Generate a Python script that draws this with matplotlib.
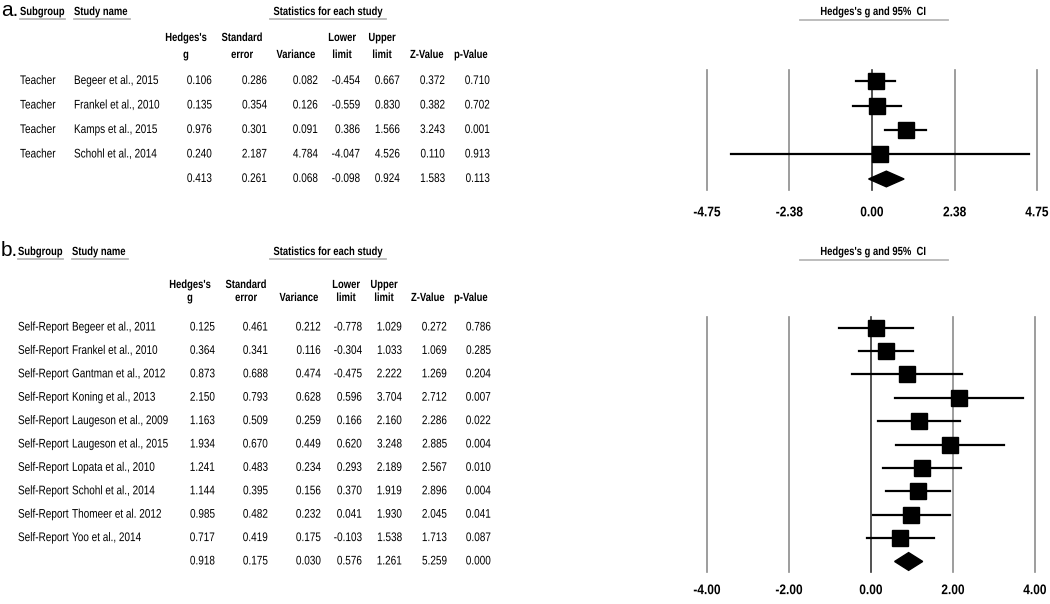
import matplotlib
matplotlib.use('Agg')
import matplotlib.pyplot as plt
from matplotlib.patches import Polygon
from matplotlib.lines import Line2D
from matplotlib.patheffects import AbstractPathEffect
from matplotlib.transforms import Affine2D, blended_transform_factory

# Panel a: teacher-reported outcomes
teacher_group = 'Teacher'
teacher_studies = ['Begeer et al., 2015', 'Frankel et al., 2010',
                   'Kamps et al., 2015', 'Schohl et al., 2014']
teacher_g = [0.106, 0.135, 0.976, 0.240]
teacher_se = [0.286, 0.354, 0.301, 2.187]
teacher_var = [0.082, 0.126, 0.091, 4.784]
teacher_lower = [-0.454, -0.559, 0.386, -4.047]
teacher_upper = [0.667, 0.830, 1.566, 4.526]
teacher_z = [0.372, 0.382, 3.243, 0.110]
teacher_p = [0.710, 0.702, 0.001, 0.913]
teacher_summary = [0.413, 0.261, 0.068, -0.098, 0.924, 1.583, 0.113]
teacher_ticks = [-4.75, -2.38, 0.0, 2.38, 4.75]
teacher_tick_labels = ['-4.75', '-2.38', '0.00', '2.38', '4.75']

# Panel b: self-reported outcomes
self_group = 'Self-Report'
self_studies = ['Begeer et al., 2011', 'Frankel et al., 2010', 'Gantman et al., 2012',
                'Koning et al., 2013', 'Laugeson et al., 2009', 'Laugeson et al., 2015',
                'Lopata et al., 2010', 'Schohl et al., 2014', 'Thomeer et al. 2012',
                'Yoo et al., 2014']
self_g = [0.125, 0.364, 0.873, 2.150, 1.163, 1.934, 1.241, 1.144, 0.985, 0.717]
self_se = [0.461, 0.341, 0.688, 0.793, 0.509, 0.670, 0.483, 0.395, 0.482, 0.419]
self_var = [0.212, 0.116, 0.474, 0.628, 0.259, 0.449, 0.234, 0.156, 0.232, 0.175]
self_lower = [-0.778, -0.304, -0.475, 0.596, 0.166, 0.620, 0.293, 0.370, 0.041, -0.103]
self_upper = [1.029, 1.033, 2.222, 3.704, 2.160, 3.248, 2.189, 1.919, 1.930, 1.538]
self_z = [0.272, 1.069, 1.269, 2.712, 2.286, 2.885, 2.567, 2.896, 2.045, 1.713]
self_p = [0.786, 0.285, 0.204, 0.007, 0.022, 0.004, 0.010, 0.004, 0.041, 0.087]
self_summary = [0.918, 0.175, 0.030, 0.576, 1.261, 5.259, 0.000]
self_ticks = [-4.0, -2.0, 0.0, 2.0, 4.0]
self_tick_labels = ['-4.00', '-2.00', '0.00', '2.00', '4.00']

col_heads = [('Hedges\'s', 'g'), ('Standard', 'error'), ('', 'Variance'),
             ('Lower', 'limit'), ('Upper', 'limit'), ('', 'Z-Value'), ('', 'p-Value')]

W, H = 1050, 604
plt.rcParams['font.family'] = ['Liberation Sans', 'DejaVu Sans']


class Narrow(AbstractPathEffect):
    '''Squeeze text sideways, keeping its alignment point fixed (no narrow font here)'''

    def __init__(self, sx, ha='left'):
        super().__init__()
        self.sx = sx
        self.ha = ha

    def draw_path(self, renderer, gc, tpath, affine, rgbFace=None):
        ext = tpath.get_extents()
        if self.ha == 'right':
            ref = ext.x1
        elif self.ha == 'center':
            ref = (ext.x0 + ext.x1) / 2
        else:
            ref = 0
        t = Affine2D().translate(-ref, 0).scale(self.sx, 1).translate(ref, 0) + affine
        renderer.draw_path(gc, tpath, t, rgbFace)


fig = plt.figure(figsize=(W / 100, H / 100), dpi=100)


def fx(px):
    return px / W


def fy(py):
    return 1 - py / H


def txt(x, y, s, size=9, bold=False, ha='left', sx=0.8, transform=None):
    fig.text(x, y, s, fontsize=size, fontweight='bold' if bold else 'normal', ha=ha,
             va='center', transform=transform or fig.transFigure,
             path_effects=[Narrow(sx, ha)])


def hline(x0, x1, y):
    fig.add_artist(Line2D([fx(x0), fx(x1)], [fy(y), fy(y)], color='#b8b8b8', lw=1.3,
                          transform=fig.transFigure))


def panel(letter, top_y, ax_box, nrows, group, studies, cols, summary, ticks,
          tick_labels, col_right, col_center, head_y, x_sub, x_study, tick_pad, diam_h):
    left, top, right, bottom = ax_box
    ax = fig.add_axes([fx(left), fy(bottom), fx(right - left), (bottom - top) / H])
    ax.set_xlim(ticks[0], ticks[-1])
    ax.set_ylim(nrows + 0.45, -0.45)
    for s in ax.spines.values():
        s.set_visible(False)
    ax.set_yticks([])
    ax.set_xticks(ticks)
    ax.set_xticklabels(tick_labels, fontweight='bold', fontsize=10)
    for lab in ax.get_xticklabels():
        lab.set_path_effects([Narrow(0.86, 'center')])
    ax.tick_params(axis='x', length=0, pad=tick_pad)
    for t in ticks:
        ax.axvline(t, color='#333333' if t == 0 else '#8c8c8c', lw=1.2, clip_on=False)

    g, lo, up = cols[0], cols[3], cols[4]
    for i in range(len(studies)):
        ax.plot([lo[i], up[i]], [i, i], color='black', lw=1.6, clip_on=False, zorder=3)
        ax.plot(g[i], i, marker='s', ms=11.5, color='black', zorder=4)
    r = len(studies)
    ax.add_patch(Polygon([(summary[3], r), (summary[0], r - diam_h), (summary[4], r),
                          (summary[0], r + diam_h)], closed=True, color='black', zorder=4))

    # headers
    fig.text(fx(1), fy(top_y - 1), letter, fontsize=15, va='center')
    txt(fx(x_sub), fy(top_y), 'Subgroup', 8.5, True)
    txt(fx(x_study), fy(top_y), 'Study name', 8.5, True)
    txt(fx(328), fy(top_y), 'Statistics for each study', 8.5, True, 'center')
    txt(fx(873), fy(top_y), 'Hedges\'s g and 95%  CI', 8.5, True, 'center')
    hline(x_sub, x_sub + 45, top_y + 7)
    hline(x_study, x_study + 56, top_y + 7)
    hline(270, 386, top_y + 7)
    hline(800, 948, top_y + 8)

    for (h1, h2), cx in zip(col_heads, col_center):
        if h1:
            txt(fx(cx), fy(head_y[0]), h1, 8.5, True, 'center')
        txt(fx(cx), fy(head_y[1]), h2, 8.5, True, 'center')

    # table rows aligned to forest rows
    tr = blended_transform_factory(fig.transFigure, ax.transData)
    for i, name in enumerate(studies):
        txt(fx(x_sub), i, group, transform=tr)
        txt(fx(x_study), i, name, transform=tr)
        for c, xr in zip(cols, col_right):
            txt(fx(xr), i, '%.3f' % c[i], ha='right', transform=tr)
    for v, xr in zip(summary, col_right):
        txt(fx(xr), r, '%.3f' % v, ha='right', transform=tr)
    return ax


panel('a.', 12, (707, 70, 1037, 190), 4, teacher_group, teacher_studies,
      [teacher_g, teacher_se, teacher_var, teacher_lower, teacher_upper, teacher_z, teacher_p],
      teacher_summary, teacher_ticks, teacher_tick_labels,
      [212, 267, 318, 360, 400, 445, 490], [186, 242, 296, 342, 382, 427, 471],
      (38, 55), 20, 74, 11, 0.32)

panel('b.', 252, (707, 317, 1035, 572), 10, self_group, self_studies,
      [self_g, self_se, self_var, self_lower, self_upper, self_z, self_p],
      self_summary, self_ticks, self_tick_labels,
      [215, 268, 321, 362, 402, 447, 491], [190, 246, 299, 346, 384, 428, 471],
      (285, 298), 18, 72, 8, 0.38)

fig.savefig('out.png', dpi=100)
